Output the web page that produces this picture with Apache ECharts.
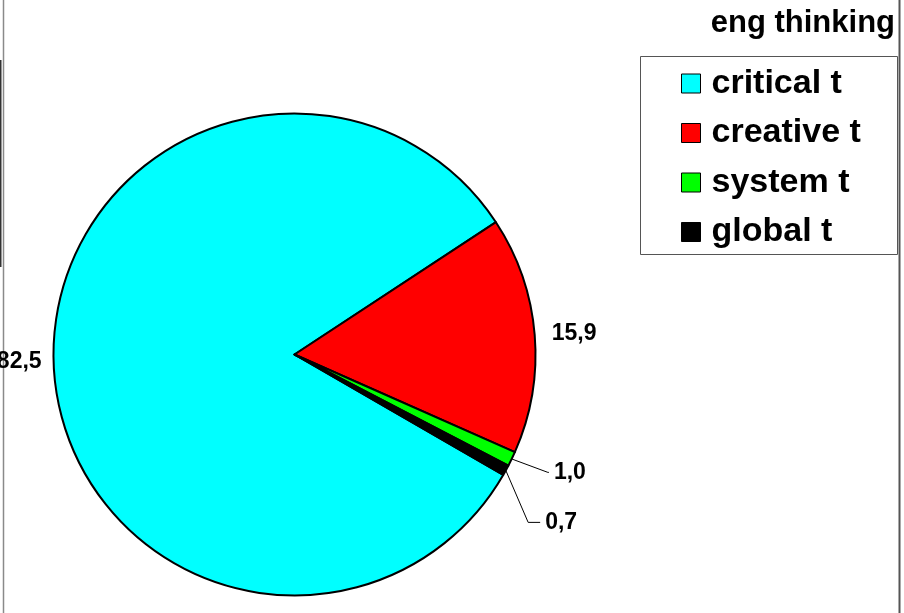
<!DOCTYPE html>
<html>
<head>
<meta charset="utf-8">
<script src="https://cdn.jsdelivr.net/npm/echarts@6/dist/echarts.min.js"></script>
<style>
  html, body { margin: 0; padding: 0; background: #ffffff; }
  #chart { width: 904px; height: 613px; }
</style>
</head>
<body>
<div id="chart"></div>
<script>
// Shares of engineering thinking types, in percent
const chartTitle = 'eng thinking';
const categories = ['critical t', 'creative t', 'system t', 'global t'];
const values = [82.5, 15.9, 1.0, 0.7];
const sliceColors = ['#00FFFF', '#FF0000', '#00FF00', '#000000'];

const FONT = '"Liberation Sans", Arial, sans-serif';

// Leader-line settings per slice: the two big slices carry their label
// right next to the rim, the two thin ones get a visible leader line.
const leaderShow = [false, false, true, true];
const leaderLen = [5, 8, 31, 25.5];
const leaderLen2 = [2, 9, 1, 12];
const labelLineHeight = [23, 23, 48, 48];

// decimal comma, one digit after it
const fmt = v => v.toFixed(1).replace('.', ',');

const pieData = categories.map((name, i) => ({
  name: name,
  value: values[i],
  itemStyle: { color: sliceColors[i] },
  label: { lineHeight: labelLineHeight[i] },
  labelLine: { show: leaderShow[i], length: leaderLen[i], length2: leaderLen2[i] }
}));

const chart = echarts.init(document.getElementById('chart'), null, { renderer: 'canvas' });

chart.setOption({
  animation: false,
  backgroundColor: '#ffffff',
  title: {
    text: chartTitle,
    right: 9,
    top: 8,
    padding: 0,
    textStyle: { fontFamily: FONT, fontWeight: 'bold', fontSize: 31, lineHeight: 31, color: '#000000' }
  },
  legend: {
    orient: 'vertical',
    left: 681,
    top: 66.5,
    padding: 0,
    itemGap: 15.5,
    itemWidth: 19,
    itemHeight: 19,
    icon: 'rect',
    selectedMode: false,
    data: categories,
    itemStyle: { borderColor: '#000000', borderWidth: 1 },
    textStyle: { fontFamily: FONT, fontWeight: 'bold', fontSize: 34, lineHeight: 34, color: '#000000', padding: [0, 0, 0, 6] }
  },
  graphic: [
    // legend frame
    { type: 'rect', shape: { x: 640.5, y: 56.5, width: 257, height: 198 },
      style: { fill: 'none', stroke: '#555555', lineWidth: 1 }, silent: true },
    // page frame lines
    { type: 'line', shape: { x1: 3.5, y1: 0, x2: 3.5, y2: 613 },
      style: { stroke: '#8a8a8a', lineWidth: 1.5 }, silent: true },
    { type: 'line', shape: { x1: 0.5, y1: 60, x2: 0.5, y2: 267 },
      style: { stroke: '#333333', lineWidth: 2 }, silent: true },
    { type: 'line', shape: { x1: 899.5, y1: 0, x2: 899.5, y2: 613 },
      style: { stroke: '#555555', lineWidth: 2 }, silent: true }
  ],
  series: [{
    type: 'pie',
    center: [294.5, 354.5],
    radius: 241,
    startAngle: 330,
    clockwise: true,
    avoidLabelOverlap: true,
    emphasis: { disabled: true },
    itemStyle: { borderColor: '#000000', borderWidth: 2 },
    label: {
      show: true,
      position: 'outside',
      formatter: p => fmt(p.value),
      fontFamily: FONT,
      fontWeight: 'bold',
      fontSize: 23,
      color: '#000000',
      overflow: 'none',
      distanceToLabelLine: 5
    },
    labelLine: { show: true, lineStyle: { color: '#000000', width: 1 } },
    data: pieData
  }]
});
</script>
</body>
</html>
